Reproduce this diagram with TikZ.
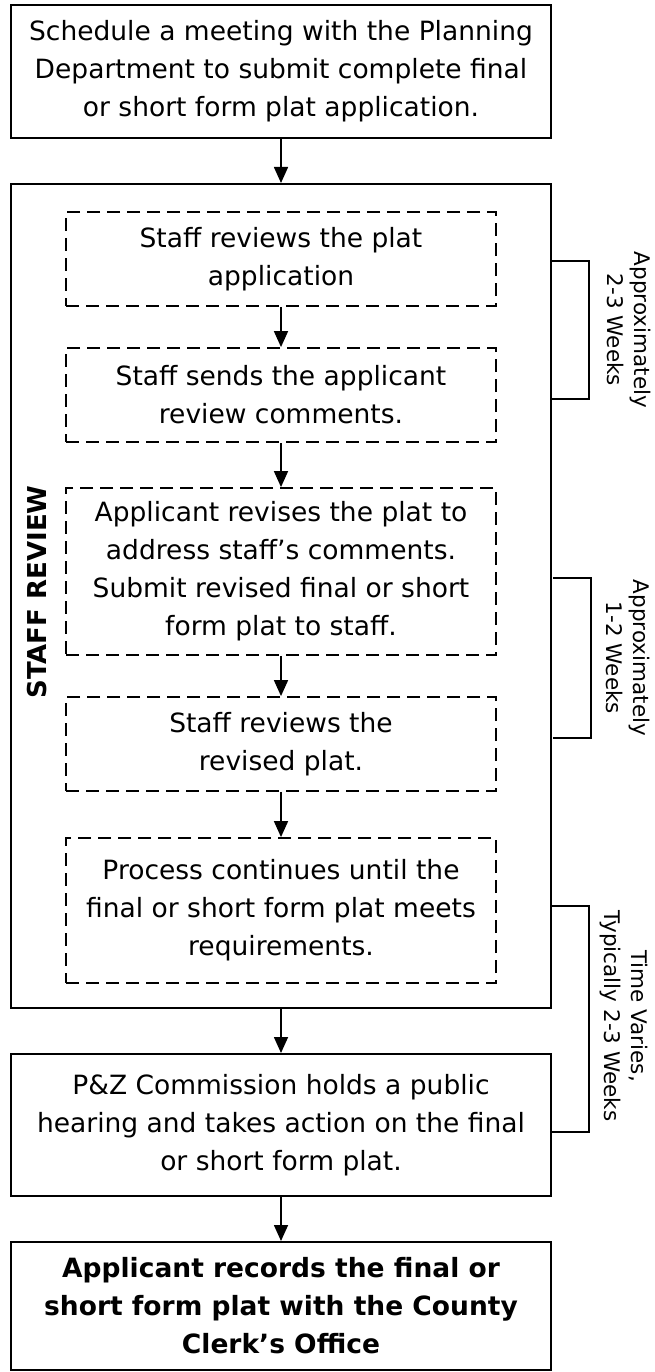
\documentclass[tikz,border=0pt]{standalone}
\usepackage{fontspec}
\setmainfont{DejaVu Sans}
\usetikzlibrary{arrows.meta}
\begin{document}
\begin{tikzpicture}[x=1pt,y=-1pt,
  box/.style={draw, line width=2pt, inner sep=0pt, align=center, minimum width=540pt, font=\fontsize{26.5}{38}\selectfont},
  dbox/.style={draw, line width=1.8pt, dash pattern=on 13pt off 7pt, inner sep=0pt, align=center, minimum width=430pt, font=\fontsize{26.5}{38}\selectfont},
  arr/.style={line width=1.6pt, -{Triangle[length=16pt,width=14pt]}},
  brk/.style={line width=2pt},
  btext/.style={rotate=-90, align=center, font=\fontsize{21.5}{27}\selectfont}]
\useasboundingbox (0,0) rectangle (654,1372);
% main boxes
\node[box, minimum height=133pt] (top) at (281,71.5) {Schedule a meeting with the Planning\\Department to submit complete final\\or short form plat application.};
\node[box, minimum height=824pt] (staff) at (281,596) {};
\node[box, minimum height=142pt] (pz) at (281,1125) {P\&Z Commission holds a public\\hearing and takes action on the final\\or short form plat.};
\node[box, minimum height=128pt, font=\fontsize{26.5}{38}\selectfont\bfseries] (final) at (281,1306) {Applicant records the final or\\short form plat with the County\\Clerk’s Office};
% dashed boxes
\node[dbox, minimum height=94pt] (d1) at (281,259) {Staff reviews the plat\\application};
\node[dbox, minimum height=94pt] (d2) at (281,395) {Staff sends the applicant\\review comments.};
\node[dbox, minimum height=167pt] (d3) at (281,571.5) {Applicant revises the plat to\\address staff’s comments.\\Submit revised final or short\\form plat to staff.};
\node[dbox, minimum height=94pt] (d4) at (281,744) {Staff reviews the\\revised plat.};
\node[dbox, minimum height=145pt] (d5) at (281,910.5) {Process continues until the\\final or short form plat meets\\requirements.};
% label
\node[rotate=90, font=\fontsize{26}{30}\selectfont\bfseries] (lbl) at (37,592) {STAFF REVIEW};
% arrows
\draw[arr] (top.south) -- (staff.north);
\draw[arr] (d1.south) -- (d2.north);
\draw[arr] (d2.south) -- (d3.north);
\draw[arr] (d3.south) -- (d4.north);
\draw[arr] (d4.south) -- (d5.north);
\draw[arr] (staff.south) -- (pz.north);
\draw[arr] (pz.south) -- (final.north);
% brackets
\coordinate (b1a) at (551,261);
\coordinate (b1b) at (551,399);
\coordinate (b2a) at (553,578);
\coordinate (b2b) at (553,738);
\coordinate (b3a) at (551,906);
\coordinate (b3b) at (551,1132);
\draw[brk] (b1a) -- ++(38,0) |- (b1b);
\draw[brk] (b2a) -- ++(38,0) |- (b2b);
\draw[brk] (b3a) -- ++(38,0) |- (b3b);
\node[btext] (t1) at (629,330) {Approximately\\2-3 Weeks};
\node[btext] (t2) at (628,658) {Approximately\\1-2 Weeks};
\node[btext] (t3) at (624,1016) {Time Varies,\\Typically 2-3 Weeks};
\end{tikzpicture}
\end{document}
